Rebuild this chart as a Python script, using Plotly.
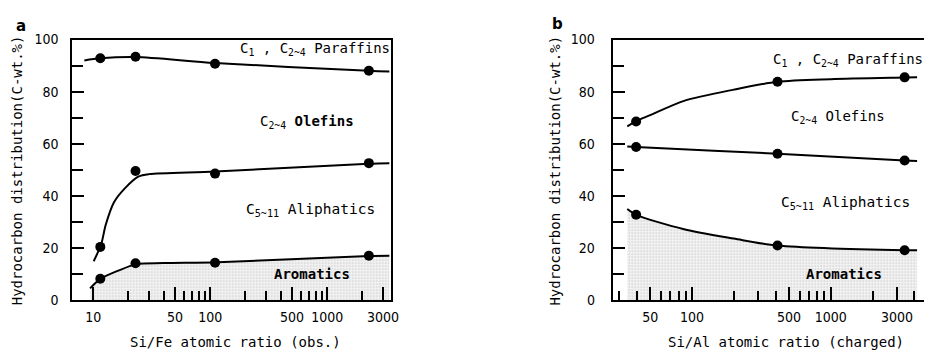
import plotly.graph_objects as go

W, H = 932, 359

# ---------------- data ----------------
# Panel a : Si/Fe atomic ratio (obs.)
a_x = [11.5, 23, 110, 2270]
a_paraffin = [92.8, 93.4, 90.7, 88.0]
a_olefin = [20.5, 49.6, 48.6, 52.6]
a_aromatic = [8.3, 14.2, 14.4, 17.1]

# hand-drawn curves of panel a
a_par_cx = [8.4, 11.5, 23, 110, 2270, 3400]
a_par_cy = [92.0, 92.8, 93.3, 91.0, 88.0, 87.7]
a_ole_cx = [10.1, 11.7, 12.8, 15.1, 18.9, 24.5, 30, 110, 2270, 3400]
a_ole_cy = [15.0, 21.5, 29.0, 37.7, 43.2, 47.5, 48.4, 49.4, 52.4, 52.6]
a_aro_cx = [9.4, 11.6, 16.6, 23.5, 40, 115, 2270, 3400]
a_aro_cy = [4.6, 8.3, 11.5, 13.9, 14.3, 14.6, 17.0, 17.1]

# Panel b : Si/Al atomic ratio (charged)
b_x = [39.6, 413, 3400]
b_paraffin = [68.6, 83.8, 85.5]
b_olefin = [58.8, 56.2, 53.6]
b_aromatic = [32.8, 21.0, 19.2]

b_par_cx = [34.2, 39.6, 50, 87.7, 200, 413, 1000, 3400, 4180]
b_par_cy = [66.7, 68.7, 71.0, 76.5, 80.8, 83.8, 84.8, 85.4, 85.5]
b_ole_cx = [34.2, 39.6, 413, 3400, 4180]
b_ole_cy = [59.0, 58.8, 56.2, 53.6, 53.4]
b_aro_cx = [34.2, 39.6, 87.7, 200, 413, 3400, 4180]
b_aro_cy = [35.0, 32.8, 27.3, 23.7, 21.0, 19.2, 19.2]

y_ticks = [0, 20, 40, 60, 80, 100]
y_minor = [10, 30, 50, 70, 90]
a_xticks = [10, 50, 100, 500, 1000, 3000]
a_xminor = [20, 30, 40, 60, 70, 80, 90, 200, 300, 400, 600, 700, 800, 900, 2000]
b_xticks = [50, 100, 500, 1000, 3000]
b_xminor = [30, 40, 60, 70, 80, 90, 200, 300, 400, 600, 700, 800, 900, 2000, 4000]

# ---------------- layout helpers ----------------
def px(x):
    return x / W

def py(y):
    return 1 - y / H

TICKFONT = dict(family="DejaVu Sans Condensed, Liberation Sans Narrow, DejaVu Sans, sans-serif",
                size=14, color="black")
MONO = "DejaVu Sans Mono, Liberation Mono, monospace"

fig = go.Figure()

fill_pat = dict(shape=".", fgcolor="#9a9a9a", bgcolor="#f4f4f4", size=3, solidity=0.25)

def add_panel(xa, ya, par_cx, par_cy, ole_cx, ole_cy, aro_cx, aro_cy, mx, mpar, mole, maro):
    # shaded aromatics region
    fig.add_trace(go.Scatter(x=aro_cx, y=aro_cy, xaxis=xa, yaxis=ya, mode="lines",
                             line=dict(color="rgba(0,0,0,0)", shape="spline", smoothing=0.8),
                             fill="tozeroy", fillcolor="#eeeeee", fillpattern=fill_pat,
                             hoverinfo="skip", showlegend=False))
    for cx, cy in ((par_cx, par_cy), (ole_cx, ole_cy), (aro_cx, aro_cy)):
        fig.add_trace(go.Scatter(x=cx, y=cy, xaxis=xa, yaxis=ya, mode="lines",
                                 line=dict(color="black", width=2, shape="spline", smoothing=0.8),
                                 showlegend=False))
    for my in (mpar, mole, maro):
        fig.add_trace(go.Scatter(x=mx, y=my, xaxis=xa, yaxis=ya, mode="markers",
                                 marker=dict(color="black", size=10),
                                 showlegend=False))

add_panel("x", "y", a_par_cx, a_par_cy, a_ole_cx, a_ole_cy, a_aro_cx, a_aro_cy,
          a_x, a_paraffin, a_olefin, a_aromatic)
add_panel("x2", "y2", b_par_cx, b_par_cy, b_ole_cx, b_ole_cy, b_aro_cx, b_aro_cy,
          b_x, b_paraffin, b_olefin, b_aromatic)

ydom = [py(306), py(33)]

def yaxis(anchor, standoff, mirror):
    return dict(domain=ydom, anchor=anchor, range=[0, 100], tickmode="array",
                tickvals=y_ticks, ticks="inside", ticklen=12, tickwidth=1.5,
                tickcolor="black", showline=True, linecolor="black", linewidth=2,
                mirror=mirror, showgrid=False, zeroline=False, tickfont=TICKFONT,
                ticklabelstandoff=standoff,
                minor=dict(tickmode="array", tickvals=y_minor, ticks="inside",
                           ticklen=11, tickwidth=1.5, tickcolor="black", showgrid=False))

def xaxis(anchor, dom, rng, tv, mv):
    return dict(domain=dom, anchor=anchor, type="log", range=rng, tickmode="array",
                tickvals=tv, ticktext=[str(v) for v in tv], ticks="inside", ticklen=13,
                tickwidth=1.5, tickcolor="black", showline=True, linecolor="black",
                linewidth=2, mirror=True, showgrid=False, zeroline=False,
                tickfont=TICKFONT, ticklabelstandoff=3,
                minor=dict(tickmode="array", tickvals=mv, ticks="inside", ticklen=9,
                           tickwidth=1.5, tickcolor="black", showgrid=False))

fig.update_layout(
    width=W, height=H, margin=dict(l=0, r=0, t=0, b=0),
    paper_bgcolor="white", plot_bgcolor="white", showlegend=False,
    xaxis=xaxis("y", [px(73), px(394)], [0.822, 3.542], a_xticks, a_xminor),
    yaxis=yaxis("x", 9, True),
    xaxis2=xaxis("y2", [px(618), 1.0], [1.429, 3.671], b_xticks, b_xminor),
    yaxis2=yaxis("x2", 13, False),
)

def ann(text, x, y, size=14, bold=False, angle=0, family=MONO):
    if bold:
        text = "<b>" + text + "</b>"
    fig.add_annotation(text=text, x=px(x), y=py(y), xref="paper", yref="paper",
                       xanchor="center", yanchor="middle", showarrow=False,
                       textangle=angle, font=dict(family=family, size=size, color="black"))

PAR = "C<sub>1</sub> , C<sub>2~4</sub> Paraffins"
OLE = "C<sub>2~4</sub> Olefins"
OLE_B = "C<sub>2~4</sub> <b>Olefins</b>"
ALI = "C<sub>5~11</sub> Aliphatics"
YT = "Hydrocarbon distribution(C-wt.%)"

# panel a texts
ann("a", 21, 19, size=15, bold=True, family="DejaVu Sans, sans-serif")
ann(PAR, 318, 43)
ann(OLE_B, 310, 119)
ann(ALI, 313, 211, size=14.5)
ann("Aromatics", 315, 278, bold=True)
ann(YT, 18, 170, size=14, angle=-90)
ann("Si/Fe atomic ratio (obs.)", 238, 350)

# panel b texts
ann("b", 562, 17, size=15, bold=True, family="DejaVu Sans, sans-serif")
ann(PAR, 855, 54)
ann(OLE, 845, 114)
ann(ALI, 853, 204, size=14.5)
ann("Aromatics", 851, 278, bold=True)
ann(YT, 560, 170, size=14, angle=-90)
ann("Si/Al atomic ratio (charged)", 793, 350)

fig.write_html("out.html")
